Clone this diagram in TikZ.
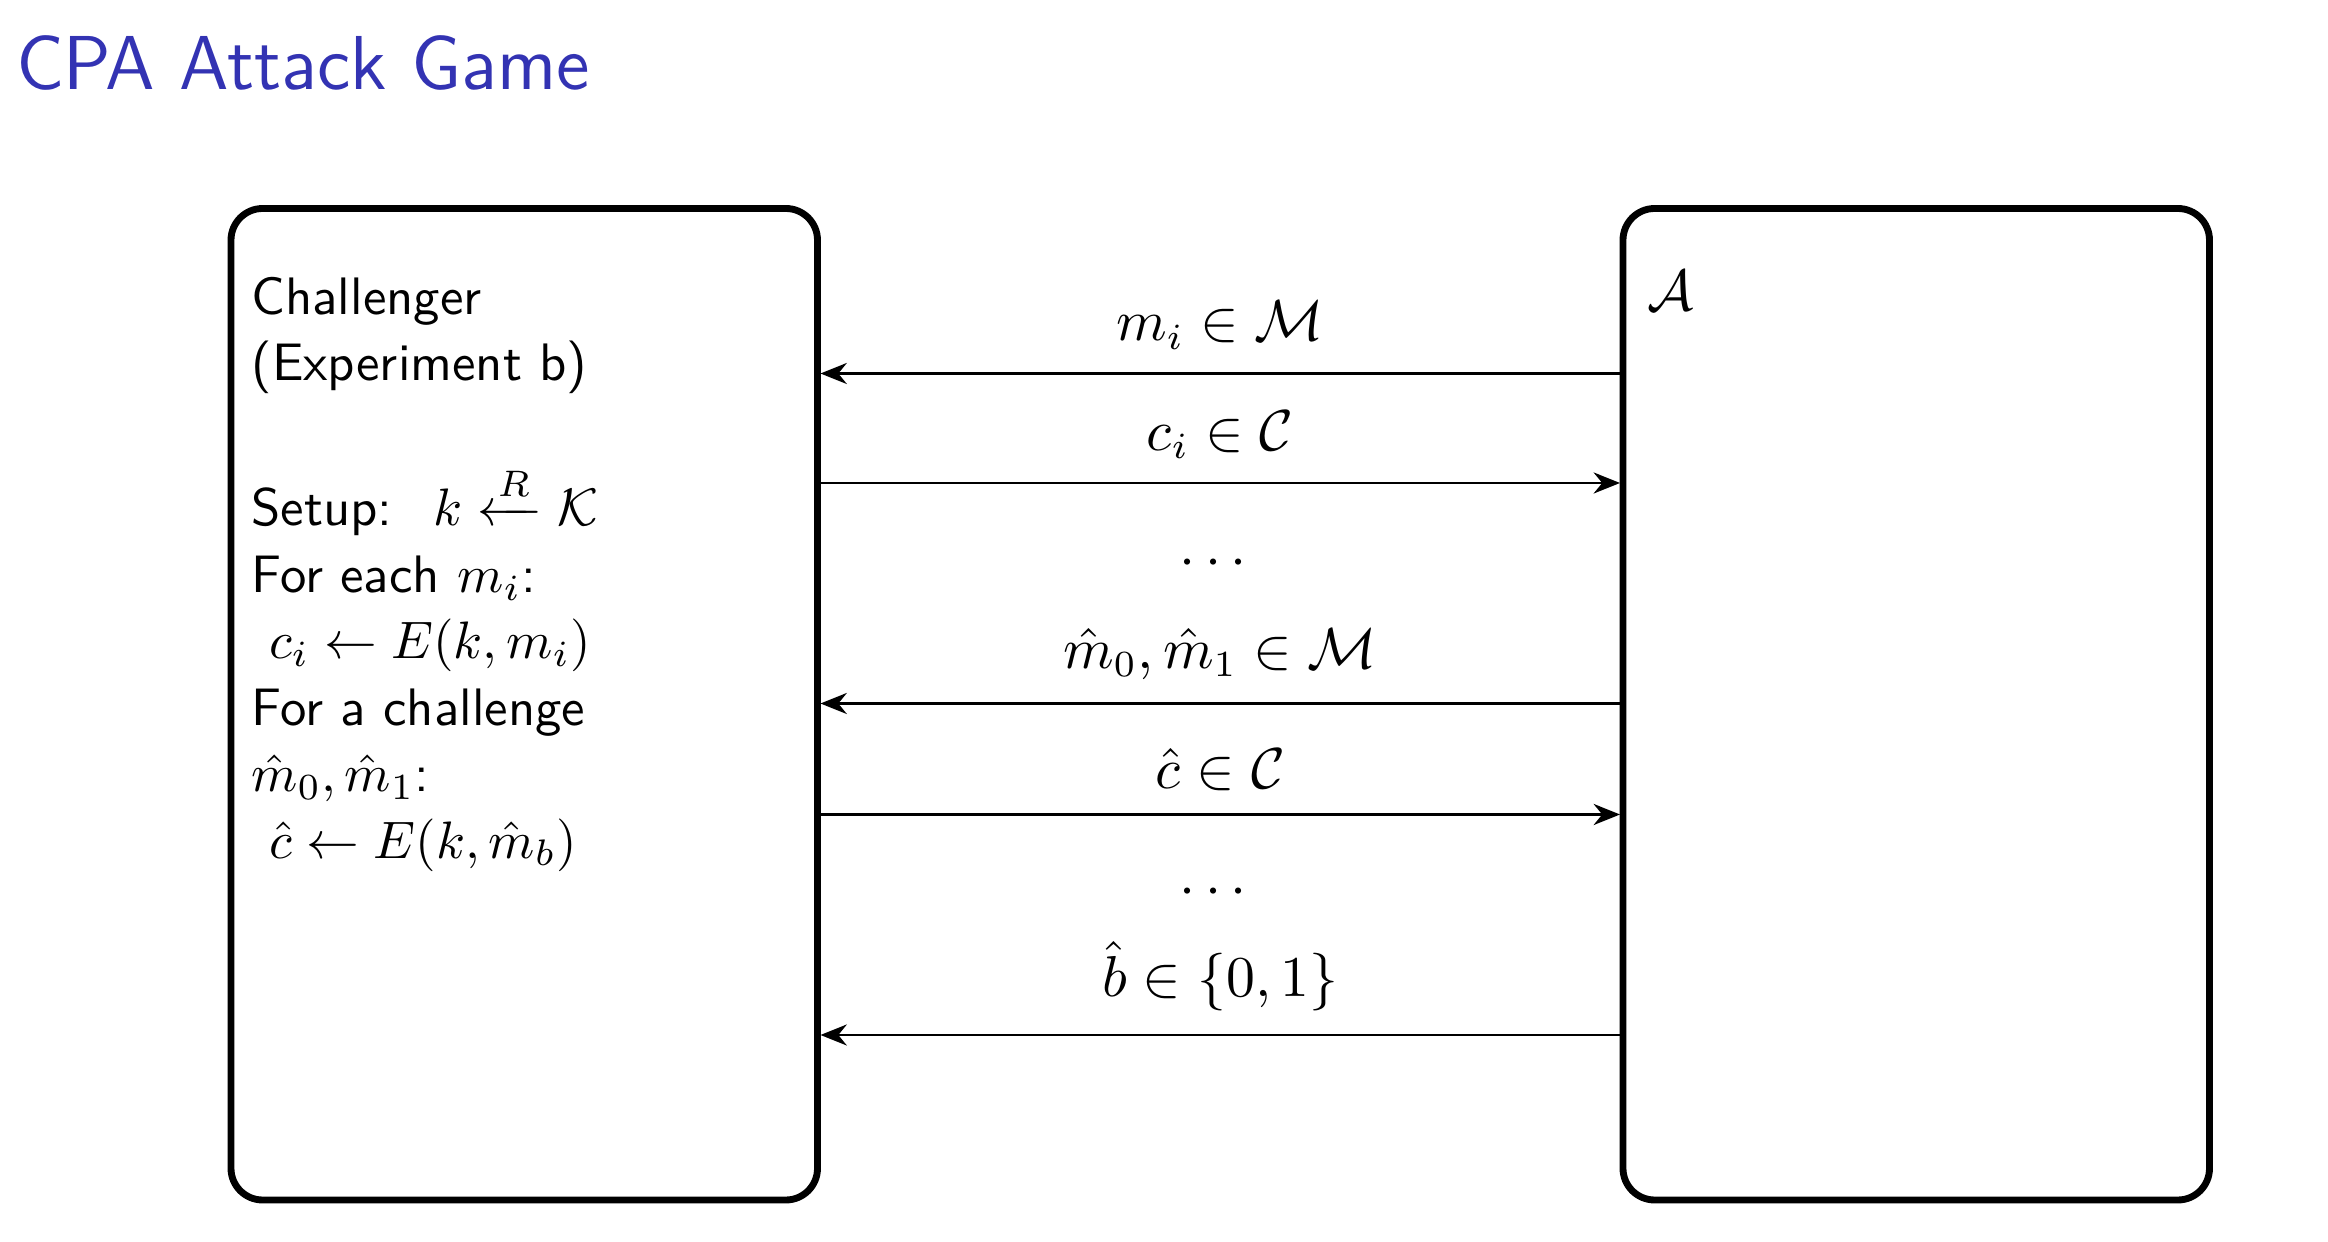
\documentclass[tikz,border=0pt]{standalone}
\usepackage{amsmath}
\usepackage{tikz}
\usetikzlibrary{arrows.meta,positioning}
\definecolor{beamerblue}{HTML}{3333B3}

\begin{document}
\begin{tikzpicture}[x=1cm,y=1cm,
  party/.style={draw,line width=1.3pt,rounded corners=6pt},
  msg/.style={-{Stealth[length=5pt,width=4pt]},line width=0.5pt},
  lbl/.style={above=1pt,font=\fontsize{10.5}{12.5}\selectfont}]
\useasboundingbox (0,0) rectangle (15.52,8.28);
% Title
\node[anchor=west,text=beamerblue,font=\sffamily\fontsize{14.5}{17}\selectfont,inner sep=0pt] (title) at (0.1,7.86) {CPA Attack Game};

% Parties
\draw[party] (1.54,0.28) rectangle (5.45,6.89);
\draw[party] (10.82,0.28) rectangle (14.73,6.89);
\coordinate (chal) at (5.47,0);
\coordinate (adv) at (10.80,0);
\node[anchor=north west,font=\fontsize{10.5}{12.5}\selectfont] (atext) at (10.86,6.60) {$\mathcal{A}$};

\node[anchor=north west,align=left,inner sep=0pt,font=\sffamily\fontsize{10}{12.6}\selectfont] (ctext) at (1.67,6.44)
{Challenger\\(Experiment b)\\[12.6pt]
Setup: \ $k \xleftarrow{R} \mathcal{K}$\\
For each $m_i$:\\
\ $c_i \leftarrow E(k,m_i)$\\
For a challenge\\
$\hat m_0,\hat m_1$:\\
\ $\hat c \leftarrow E(k,\hat m_b)$};

% Messages
\foreach \y/\dir/\txt in {5.79/l/{$m_i\in\mathcal{M}$}, 5.06/r/{$c_i\in\mathcal{C}$}, 3.59/l/{$\hat m_0,\hat m_1\in\mathcal{M}$}, 2.85/r/{$\hat c\in\mathcal{C}$}, 1.38/l/{$\hat b\in\{0,1\}$}} {
  \coordinate (p) at (chal |- 0,\y);
  \coordinate (q) at (adv |- 0,\y);
  \if\dir l
    \draw[msg] (q) -- (p) node[lbl,midway] {\txt};
  \else
    \draw[msg] (p) -- (q) node[lbl,midway] {\txt};
  \fi
}
\node[font=\fontsize{10.5}{12.5}\selectfont] (dotsa) at (8.12,4.52) {$\cdots$};
\node[font=\fontsize{10.5}{12.5}\selectfont] (dotsb) at (8.12,2.33) {$\cdots$};
\end{tikzpicture}
\end{document}
